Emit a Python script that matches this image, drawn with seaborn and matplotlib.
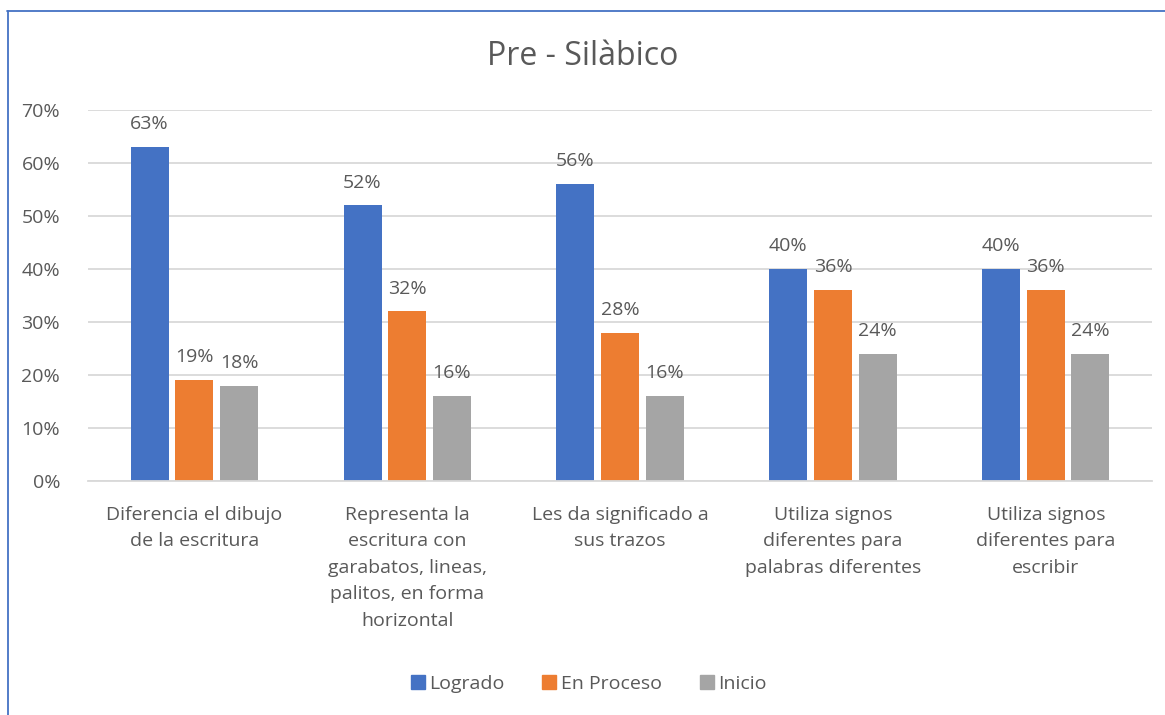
import matplotlib
matplotlib.use("Agg")
import matplotlib.pyplot as plt
from matplotlib.ticker import FuncFormatter
from matplotlib.lines import Line2D
import pandas as pd
import seaborn as sns

# Datos
categorias = [
    "Diferencia el dibujo\nde la escritura",
    "Representa la\nescritura con\ngarabatos, lineas,\npalitos, en forma\nhorizontal",
    "Les da significado a\nsus trazos",
    "Utiliza signos\ndiferentes para\npalabras diferentes",
    "Utiliza signos\ndiferentes para\nescribir",
]
series = ["Logrado", "En Proceso", "Inicio"]
logrado = [63, 52, 56, 40, 40]
en_proceso = [19, 32, 28, 36, 36]
inicio = [18, 16, 16, 24, 24]
colores = ["#4472C4", "#ED7D31", "#A5A5A5"]

df = pd.DataFrame({
    "categoria": categorias * 3,
    "serie": [s for s in series for _ in categorias],
    "valor": logrado + en_proceso + inicio,
})

sns.set_theme(style="white")
plt.rcParams["font.family"] = ["Open Sans", "DejaVu Sans"]
texto = "#595959"

fig = plt.figure(figsize=(11.65, 7.15), dpi=100)
ax = fig.add_axes([0.0755, 0.3273, 0.9135, 0.5187])

sns.barplot(data=df, x="categoria", y="valor", hue="serie", hue_order=series,
            palette=colores, width=0.63, gap=0.15, saturation=1, linewidth=0,
            ax=ax, legend=False)

for cont in ax.containers:
    ax.bar_label(cont, labels=[f"{v:.0f}%" for v in cont.datavalues],
                 padding=10, fontsize=14, color=texto)

ax.set_ylim(0, 70)
ax.set_yticks(range(0, 71, 10))
ax.yaxis.set_major_formatter(FuncFormatter(lambda v, p: f"{v:.0f}%"))
ax.grid(axis="y", color="#D9D9D9", linewidth=1.3)
ax.set_axisbelow(True)
for s in ["top", "right", "left"]:
    ax.spines[s].set_visible(False)
ax.spines["bottom"].set_color("#D9D9D9")
ax.spines["bottom"].set_linewidth(1.3)
ax.set_xlabel("")
ax.set_ylabel("")
ax.tick_params(axis="y", labelsize=14, labelcolor=texto, length=0, pad=20)
ax.tick_params(axis="x", labelsize=14, labelcolor=texto, length=0, pad=18)
for lbl in ax.get_xticklabels():
    lbl.set_linespacing(1.6)

fig.text(0.5, 0.921, "Pre - Silàbico", ha="center", va="center", fontsize=23, color=texto)

handles = [Line2D([], [], marker="s", linestyle="", markersize=10, color=c) for c in colores]
fig.legend(handles, series, loc="center", bbox_to_anchor=(0.5, 0.044), ncol=3, frameon=False,
           fontsize=14, labelcolor=texto, handletextpad=-0.4, columnspacing=1.3)

# Borde del gráfico
borde = "#4472C4"
fig.add_artist(Line2D([0.006, 1.0], [0.985, 0.985], color=borde, linewidth=1.3, transform=fig.transFigure))
fig.add_artist(Line2D([0.007, 0.007], [0.0, 0.985], color=borde, linewidth=1.3, transform=fig.transFigure))

fig.savefig("out.png", dpi=100)
